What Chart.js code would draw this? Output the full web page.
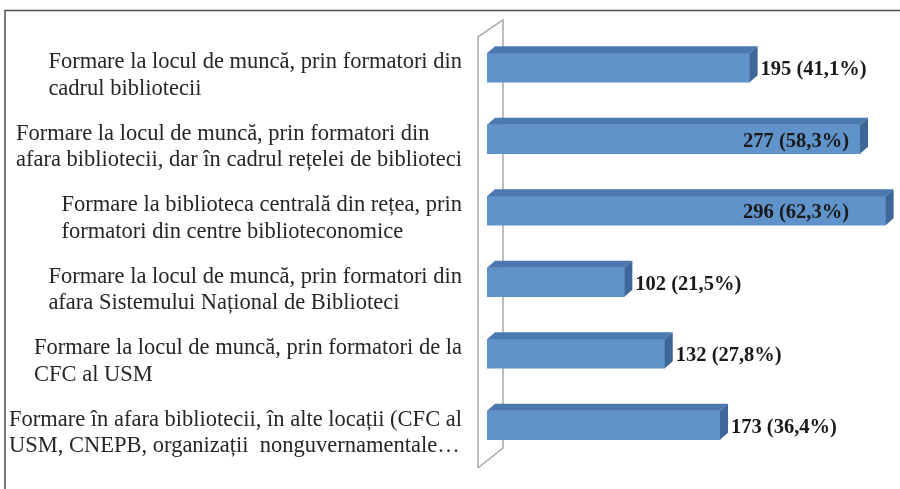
<!DOCTYPE html>
<html>
<head>
<meta charset="utf-8">
<script src="https://cdn.jsdelivr.net/npm/chart.js@4/dist/chart.umd.min.js"></script>
<style>
  html, body { margin: 0; padding: 0; background: #ffffff; }
  #wrap { width: 900px; height: 489px; position: relative; }
</style>
</head>
<body>
<div id="wrap"><canvas id="c" width="900" height="489"></canvas></div>
<script>
const categories = [
  ["Formare la locul de muncă, prin formatori din", "cadrul bibliotecii"],
  ["Formare la locul de muncă, prin formatori din", "afara bibliotecii, dar în cadrul rețelei de biblioteci"],
  ["Formare la biblioteca centrală din rețea, prin", "formatori din centre biblioteconomice"],
  ["Formare la locul de muncă, prin formatori din", "afara Sistemului Național de Biblioteci"],
  ["Formare la locul de muncă, prin formatori de la", "CFC al USM"],
  ["Formare în afara bibliotecii, în alte locații (CFC al", "USM, CNEPB, organizații  nonguvernamentale…"]
];
const counts = [195, 277, 296, 102, 132, 173];
const percents = ["41,1%", "58,3%", "62,3%", "21,5%", "27,8%", "36,4%"];

const DX = 8, DY = -7;

const framePlugin = {
  id: 'frame',
  beforeDatasetsDraw(chart) {
    const ctx = chart.ctx, a = chart.chartArea;
    ctx.save();
    ctx.strokeStyle = '#4d4d4d';
    ctx.lineWidth = 1.5;
    ctx.beginPath();
    ctx.moveTo(5, 489); ctx.lineTo(5, 10.5); ctx.lineTo(900, 10.5);
    ctx.stroke();
    const fx = a.left - 9, bx = a.left + 16;
    const ft = a.top + 5, fb = a.bottom + 7;
    const bt = a.top - 12, bb = a.bottom - 13;
    ctx.strokeStyle = '#a6a6a6';
    ctx.lineWidth = 1.5;
    ctx.beginPath();
    ctx.moveTo(fx, fb); ctx.lineTo(fx, ft); ctx.lineTo(bx, bt); ctx.lineTo(bx, bb); ctx.lineTo(fx, fb);
    ctx.stroke();
    ctx.restore();
  },
  afterDatasetsDraw(chart) {
    const ctx = chart.ctx;
    const meta = chart.getDatasetMeta(0);
    ctx.save();
    meta.data.forEach(bar => {
      const h = bar.height;
      const top = bar.y - h / 2, bottom = bar.y + h / 2;
      const x0 = bar.base, x1 = bar.x;
      ctx.fillStyle = '#4B79AF';
      ctx.beginPath();
      ctx.moveTo(x0, top); ctx.lineTo(x0 + DX, top + DY); ctx.lineTo(x1 + DX, top + DY); ctx.lineTo(x1, top);
      ctx.closePath(); ctx.fill();
      ctx.fillStyle = '#3D6798';
      ctx.beginPath();
      ctx.moveTo(x1, top); ctx.lineTo(x1 + DX, top + DY); ctx.lineTo(x1 + DX, bottom + DY); ctx.lineTo(x1, bottom);
      ctx.closePath(); ctx.fill();
    });
    ctx.restore();
  },
  afterDraw(chart) {
    const ctx = chart.ctx, a = chart.chartArea;
    const yScale = chart.scales.y;
    const meta = chart.getDatasetMeta(0);
    ctx.save();
    ctx.font = '22.5px "Liberation Serif", "Times New Roman", serif';
    ctx.fillStyle = '#262626';
    ctx.textBaseline = 'middle';
    ctx.textAlign = 'left';
    const rightEdge = a.left - 25;
    const lh = 26.5;
    categories.forEach((lines, i) => {
      const yc = yScale.getPixelForValue(i) + 8;
      const w = Math.max(...lines.map(l => ctx.measureText(l).width));
      const xl = rightEdge - w;
      const n = lines.length;
      lines.forEach((l, j) => {
        ctx.fillText(l, xl, yc + (j - (n - 1) / 2) * lh);
      });
    });
    ctx.font = 'bold 20.5px "Liberation Serif", "Times New Roman", serif';
    ctx.fillStyle = '#1a1a1a';
    meta.data.forEach((bar, i) => {
      const txt = counts[i] + ' (' + percents[i] + ')';
      const w = ctx.measureText(txt).width;
      const y = bar.y + 2;
      if (bar.x + DX + 3 + w > 900) {
        ctx.textAlign = 'right';
        ctx.fillText(txt, Math.min(bar.x - 10, a.right - 42), y);
      } else {
        ctx.textAlign = 'left';
        ctx.fillText(txt, bar.x + DX + 3, y);
      }
    });
    ctx.restore();
  }
};

new Chart(document.getElementById('c'), {
  type: 'bar',
  data: {
    labels: categories,
    datasets: [{
      data: counts,
      backgroundColor: '#5F93CA',
      borderWidth: 0,
      barThickness: 29
    }]
  },
  options: {
    indexAxis: 'y',
    responsive: false,
    animation: false,
    devicePixelRatio: 1,
    layout: { padding: { left: 487, right: 9, top: 32, bottom: 28 } },
    scales: {
      x: { display: false, min: 0, max: 300 },
      y: { display: false }
    },
    plugins: {
      legend: { display: false },
      tooltip: { enabled: false }
    }
  },
  plugins: [framePlugin]
});
</script>
</body>
</html>
